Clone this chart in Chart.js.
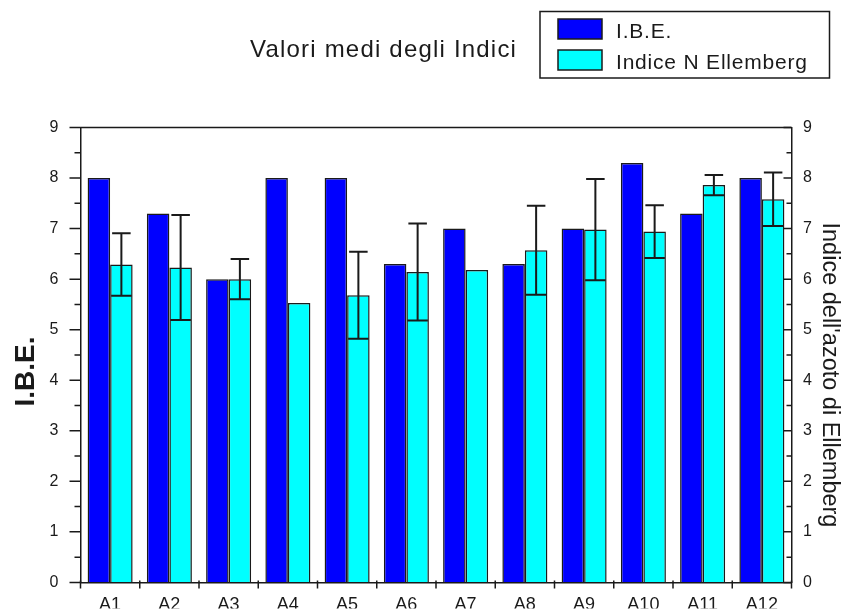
<!DOCTYPE html>
<html>
<head>
<meta charset="utf-8">
<script src="https://cdn.jsdelivr.net/npm/chart.js@4/dist/chart.umd.min.js"></script>
<style>
	html, body { margin: 0; padding: 0; background: #fff; }
	#wrap { width: 841px; height: 614px; position: relative; }
</style>
</head>
<body>
<div id="wrap"><canvas id="indiciChart"></canvas></div>
<script>
// values
const stations = ["A1", "A2", "A3", "A4", "A5", "A6", "A7", "A8", "A9", "A10", "A11", "A12"];
const ibeValues = [8.0, 7.3, 6.0, 8.0, 8.0, 6.3, 7.0, 6.3, 7.0, 8.3, 7.3, 8.0];
const ellembergValues = [6.29, 6.23, 6.0, 5.53, 5.68, 6.14, 6.18, 6.57, 6.98, 6.94, 7.86, 7.58];
const ellembergErrors = [0.62, 1.04, 0.40, null, 0.86, 0.96, null, 0.88, 1.0, 0.52, 0.20, 0.53];
const axisTicks = [0, 1, 2, 3, 4, 5, 6, 7, 8, 9];

const chartTitle = "Valori medi degli Indici";
const leftTitle = "I.B.E.";
const rightTitle = "Indice dell'azoto di Ellemberg";
const ink = "#1a1a1a";

// error bars on the Ellemberg series (whiskers with caps at both ends)
const errorBars = {
	id: "errorBars",
	afterDatasetsDraw(chart) {
		const ctx = chart.ctx;
		const meta = chart.getDatasetMeta(1);
		const y = chart.scales.y;
		ctx.save();
		ctx.strokeStyle = ink;
		ctx.lineWidth = 2;
		meta.data.forEach((bar, i) => {
			const err = ellembergErrors[i];
			if (err == null) return;
			const v = ellembergValues[i];
			const top = y.getPixelForValue(v + err);
			const bot = y.getPixelForValue(v - err);
			const half = bar.width / 2 - 1;
			ctx.beginPath();
			ctx.moveTo(bar.x, top);
			ctx.lineTo(bar.x, bot);
			ctx.moveTo(bar.x - half + 1, top);
			ctx.lineTo(bar.x + half - 1, top);
			ctx.moveTo(bar.x - half, bot);
			ctx.lineTo(bar.x + half, bot);
			ctx.stroke();
		});
		ctx.restore();
	}
};

// frame top, tick marks, titles and the boxed legend
const decorations = {
	id: "decorations",
	afterDraw(chart) {
		const ctx = chart.ctx;
		const area = chart.chartArea;
		const y = chart.scales.y;
		const y1 = chart.scales.y1;
		ctx.save();
		ctx.strokeStyle = ink;
		ctx.lineWidth = 1.5;

		// top edge of the frame
		ctx.beginPath();
		ctx.moveTo(area.left, area.top);
		ctx.lineTo(area.right, area.top);
		ctx.stroke();

		// left ticks point out, right ticks point in
		ctx.beginPath();
		y.ticks.forEach((t) => {
			const py = y.getPixelForValue(t.value);
			const major = Number.isInteger(t.value);
			ctx.moveTo(area.left - (major ? 11 : 6), py);
			ctx.lineTo(area.left, py);
		});
		y1.ticks.forEach((t) => {
			const py = y1.getPixelForValue(t.value);
			const major = Number.isInteger(t.value);
			ctx.moveTo(area.right - (major ? 8 : 5), py);
			ctx.lineTo(area.right, py);
		});
		// category separators on the x axis
		const n = stations.length;
		for (let i = 0; i <= n; i++) {
			const px = area.left + (i * (area.right - area.left)) / n;
			ctx.moveTo(px, area.bottom - 2);
			ctx.lineTo(px, area.bottom + 6);
		}
		ctx.stroke();

		ctx.fillStyle = ink;
		// chart title
		ctx.font = "24px 'Liberation Sans', Arial, sans-serif";
		ctx.letterSpacing = "1.2px";
		ctx.textAlign = "left";
		ctx.textBaseline = "alphabetic";
		ctx.fillText(chartTitle, 250, 56.5);

		// legend box
		ctx.letterSpacing = "0.8px";
		ctx.font = "21px 'Liberation Sans', Arial, sans-serif";
		ctx.strokeRect(540, 11.5, 289.5, 66.5);
		chart.data.datasets.forEach((ds, i) => {
			const top = 19 + i * 31;
			ctx.fillStyle = ds.backgroundColor;
			ctx.fillRect(558, top, 44, 20);
			ctx.strokeRect(558, top, 44, 20);
			ctx.fillStyle = ink;
			ctx.fillText(ds.label, 616, 37.5 + i * 31);
		});

		// left axis title, reads upward
		ctx.letterSpacing = "0px";
		ctx.save();
		ctx.font = "bold 28px 'Liberation Sans', Arial, sans-serif";
		ctx.translate(33.5, 406.5);
		ctx.rotate(-Math.PI / 2);
		ctx.fillText(leftTitle, 0, 0);
		ctx.restore();

		// right axis title, reads downward (clipped by the page edge)
		ctx.save();
		ctx.font = "23.5px 'Liberation Sans', Arial, sans-serif";
		ctx.translate(823, 222.5);
		ctx.rotate(Math.PI / 2);
		ctx.fillText(rightTitle, 0, 0);
		ctx.restore();

		ctx.restore();
	}
};

const tickFont = { family: "'Liberation Sans', Arial, sans-serif", size: 16 };

new Chart(document.getElementById("indiciChart"), {
	type: "bar",
	data: {
		labels: stations,
		datasets: [
			{
				label: "I.B.E.",
				data: ibeValues,
				backgroundColor: "#0000ff",
				borderColor: ink,
				borderWidth: 1.5,
				yAxisID: "y",
			},
			{
				label: "Indice N Ellemberg",
				data: ellembergValues,
				backgroundColor: "#00ffff",
				borderColor: ink,
				borderWidth: 1.5,
				yAxisID: "y",
			},
		],
	},
	options: {
		responsive: true,
		maintainAspectRatio: false,
		animation: false,
		layout: { padding: { top: 127.5, left: 0, right: 0, bottom: 0 } },
		datasets: { bar: { categoryPercentage: 0.76, barPercentage: 1 } },
		plugins: {
			legend: { display: false },
			title: { display: false },
			tooltip: { enabled: false },
		},
		scales: {
			x: {
				grid: { drawOnChartArea: false, drawTicks: false },
				border: { display: true, color: ink, width: 1.5 },
				ticks: { color: ink, font: { ...tickFont, size: 18 }, padding: 12, maxRotation: 0 },
				afterFit: (s) => { s.height = 26; },
			},
			y: {
				position: "left",
				min: 0,
				max: 9,
				grid: { drawOnChartArea: false, drawTicks: false },
				border: { display: true, color: ink, width: 1.5 },
				ticks: {
					stepSize: 0.5,
					color: ink,
					font: tickFont,
					padding: 22,
					autoSkip: false,
					callback: (v) => (axisTicks.includes(v) ? String(v) : ""),
				},
				afterFit: (s) => { s.width = 80.5; },
			},
			y1: {
				position: "right",
				min: 0,
				max: 9,
				grid: { drawOnChartArea: false, drawTicks: false },
				border: { display: true, color: ink, width: 1.5 },
				ticks: {
					stepSize: 0.5,
					color: ink,
					font: tickFont,
					padding: 11.5,
					autoSkip: false,
					callback: (v) => (axisTicks.includes(v) ? String(v) : ""),
				},
				afterFit: (s) => { s.width = 49.5; },
			},
		},
	},
	plugins: [errorBars, decorations],
});
</script>
</body>
</html>
